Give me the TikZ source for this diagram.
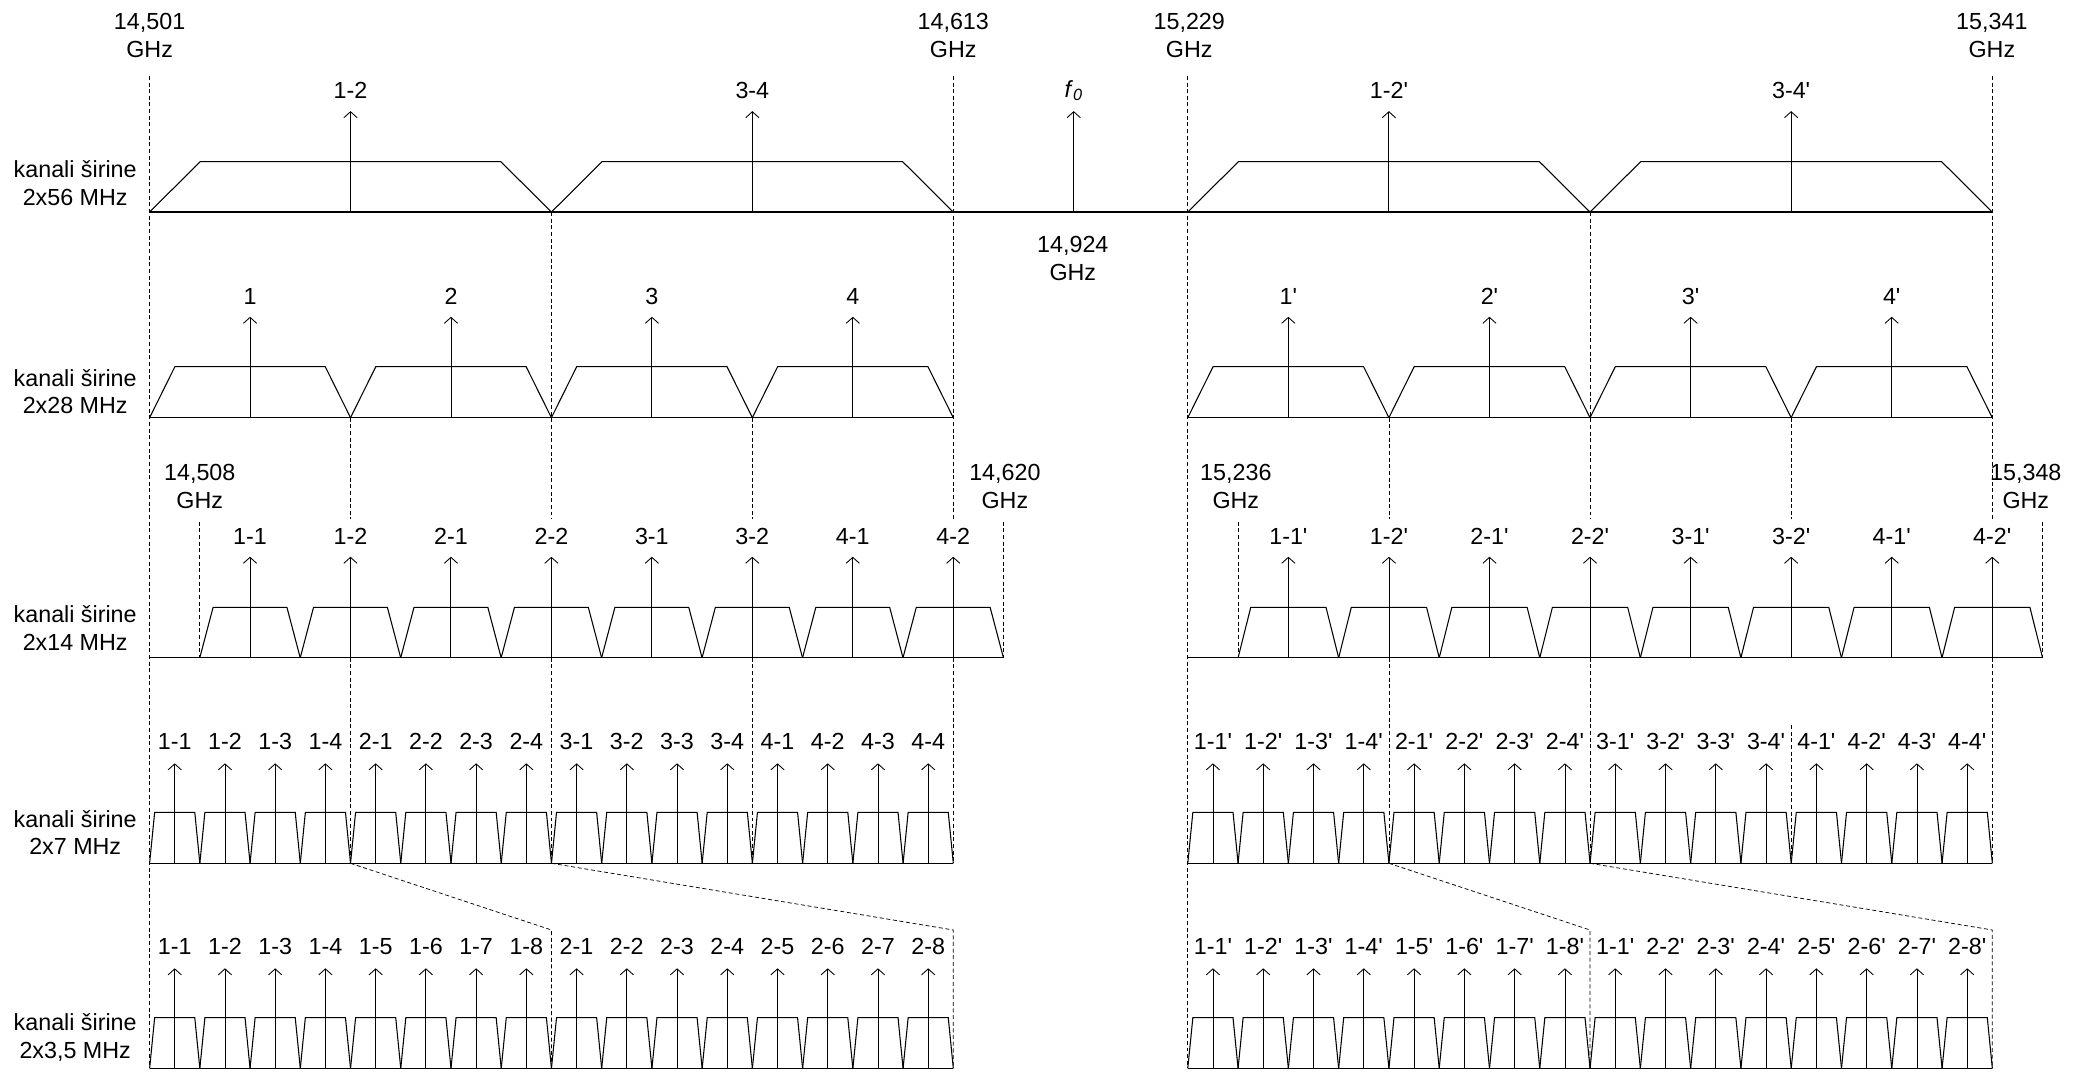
\documentclass[tikz,border=0pt]{standalone}
\usepackage{fontspec}
\setmainfont{Liberation Sans}
\usetikzlibrary{arrows.meta}
\newcommand\pq{\textquotesingle}
% #1 x0, #2 width, #3 inset, #4 baseline, #5 top, #6 tip, #7 label y, #8 labels, #9 name prefix
\newcommand\chrow[9]{%
  \foreach \lab [count=\i from 0] in {#8} {
    \pgfmathsetmacro\xa{#1+\i*#2}
    \pgfmathsetmacro\xb{\xa+#2}
    \pgfmathsetmacro\xc{\xa+#2/2}
    \draw[band] (\xa,#4) -- (\xa+#3,#5) -- (\xb-#3,#5) -- (\xb,#4);
    \draw[carrier] (\xc,#4) -- (\xc,#6);
    \node[lbl] (#9\i) at (\xc,#7) {\lab};
  }%
}
\begin{document}
\begin{tikzpicture}[x=1pt,y=-1pt,
  lbl/.style={font=\fontsize{17.5}{20.8}\selectfont, inner sep=0pt, align=center},
  band/.style={line width=0.8pt, line join=miter},
  base/.style={line width=0.9pt},
  guide/.style={dash pattern=on 3pt off 2pt, line width=0.55pt},
  carrier/.style={line width=0.65pt, -{Straight Barb[length=4.5pt,width=10pt,line width=0.65pt]}},
]
\useasboundingbox (0,0) rectangle (1568,805);

% ---------- row labels ----------
\node[lbl] (ra) at (56.5,137.5) {kanali širine\\2x56 MHz};
\node[lbl] (rb) at (56.5,294.3) {kanali širine\\2x28 MHz};
\node[lbl] (rc) at (56.5,472) {kanali širine\\2x14 MHz};
\node[lbl] (rd) at (56.5,625.4) {kanali širine\\2x7 MHz};
\node[lbl] (re) at (56.5,779.5) {kanali širine\\2x3,5 MHz};

% ---------- frequency labels ----------
\node[lbl] (fa) at (112.4,26.7) {14,501\\GHz};
\node[lbl] (fb) at (716.2,26.7) {14,613\\GHz};
\node[lbl] (fc) at (893.5,26.7) {15,229\\GHz};
\node[lbl] (fd) at (1496.5,26.7) {15,341\\GHz};
\node[lbl] (fe) at (806,194) {14,924\\GHz};
\node[lbl] (ff) at (150.1,365.7) {14,508\\GHz};
\node[lbl] (fg) at (755,365.7) {14,620\\GHz};
\node[lbl] (fh) at (928.5,365.7) {15,236\\GHz};
\node[lbl] (fi) at (1522,365.7) {15,348\\GHz};

% ---------- guides (left) ----------
\draw[guide] (112.4,57) -- (112.4,802.7);
\draw[guide] (414.3,159.3) -- (414.3,390);
\draw[guide] (716.2,57) -- (716.2,390);
\foreach \gx in {263.3,565.2} \draw[guide] (\gx,313.8) -- (\gx,390);
\foreach \gx in {263.3,414.3,565.2,716.2} \draw[guide] (\gx,494.2) -- (\gx,648.6);
\draw[guide] (150.1,392) -- (150.1,494.2);
\draw[guide] (753.9,392) -- (753.9,494.2);
\draw[guide] (263.3,648.6) -- (414.3,698.7) -- (414.3,802.7);
\draw[guide] (414.3,648.6) -- (716.2,698.7) -- (716.2,802.7);

% ---------- guides (right) ----------
\draw[guide] (892.4,57) -- (892.4,802.7);
\draw[guide] (1194.6,159.3) -- (1194.6,390);
\draw[guide] (1496.8,57) -- (1496.8,390);
\foreach \gx in {1043.5,1345.7} \draw[guide] (\gx,313.8) -- (\gx,390);
\foreach \gx in {1043.5,1194.6,1496.8} \draw[guide] (\gx,494.2) -- (\gx,648.6);
\draw[guide] (1345.7,544.7) -- (1345.7,648.6);
\draw[guide] (930.2,392) -- (930.2,494.2);
\draw[guide] (1534.5,392) -- (1534.5,494.2);
\draw[guide] (1043.5,648.6) -- (1194.6,698.7) -- (1194.6,802.7);
\draw[guide] (1194.6,648.6) -- (1496.8,698.7) -- (1496.8,802.7);

% ---------- baselines ----------
\draw[base] (112.4,159.3) -- (1496.8,159.3);
\draw[base] (112.4,313.8) -- (716.2,313.8);
\draw[base] (892.4,313.8) -- (1496.8,313.8);
\draw[base] (112.4,494.2) -- (753.9,494.2);
\draw[base] (892.4,494.2) -- (1534.5,494.2);
\draw[base] (112.4,648.6) -- (716.2,648.6);
\draw[base] (892.4,648.6) -- (1496.8,648.6);
\draw[base] (112.4,802.7) -- (716.2,802.7);
\draw[base] (892.4,802.7) -- (1496.8,802.7);

% ---------- channel rows ----------
\chrow{112.4}{301.9}{38}{159.3}{121.5}{83.5}{68}{1-2,3-4}{aL}
\chrow{892.4}{302.2}{38}{159.3}{121.5}{83.5}{68}{1-2\pq,3-4\pq}{aR}
\draw[carrier] (806.7,159.3) -- (806.7,83.5);
\node[lbl] (fnull) at (806.7,68) {\textit{f}\textsubscript{\textit{0}}};

\chrow{112.4}{150.95}{19}{313.8}{275.5}{238}{223}{1,2,3,4}{bL}
\chrow{892.4}{151.1}{19}{313.8}{275.5}{238}{223}{1\pq,2\pq,3\pq,4\pq}{bR}

\chrow{150.1}{75.475}{10}{494.2}{456.3}{418.3}{403.3}{1-1,1-2,2-1,2-2,3-1,3-2,4-1,4-2}{cL}
\chrow{930.2}{75.55}{9.5}{494.2}{456.3}{418.3}{403.3}{1-1\pq,1-2\pq,2-1\pq,2-2\pq,3-1\pq,3-2\pq,4-1\pq,4-2\pq}{cR}

\chrow{112.4}{37.74}{3.8}{648.6}{610.3}{573.5}{557.2}{1-1,1-2,1-3,1-4,2-1,2-2,2-3,2-4,3-1,3-2,3-3,3-4,4-1,4-2,4-3,4-4}{dL}
\chrow{892.4}{37.78}{3.8}{648.6}{610.3}{573.5}{557.2}{1-1\pq,1-2\pq,1-3\pq,1-4\pq,2-1\pq,2-2\pq,2-3\pq,2-4\pq,3-1\pq,3-2\pq,3-3\pq,3-4\pq,4-1\pq,4-2\pq,4-3\pq,4-4\pq}{dR}

\chrow{112.4}{37.74}{3.8}{802.7}{764.6}{727.5}{711.3}{1-1,1-2,1-3,1-4,1-5,1-6,1-7,1-8,2-1,2-2,2-3,2-4,2-5,2-6,2-7,2-8}{eL}
\chrow{892.4}{37.78}{3.8}{802.7}{764.6}{727.5}{711.3}{1-1\pq,1-2\pq,1-3\pq,1-4\pq,1-5\pq,1-6\pq,1-7\pq,1-8\pq,1-1\pq,2-2\pq,2-3\pq,2-4\pq,2-5\pq,2-6\pq,2-7\pq,2-8\pq}{eR}
\end{tikzpicture}
\end{document}
